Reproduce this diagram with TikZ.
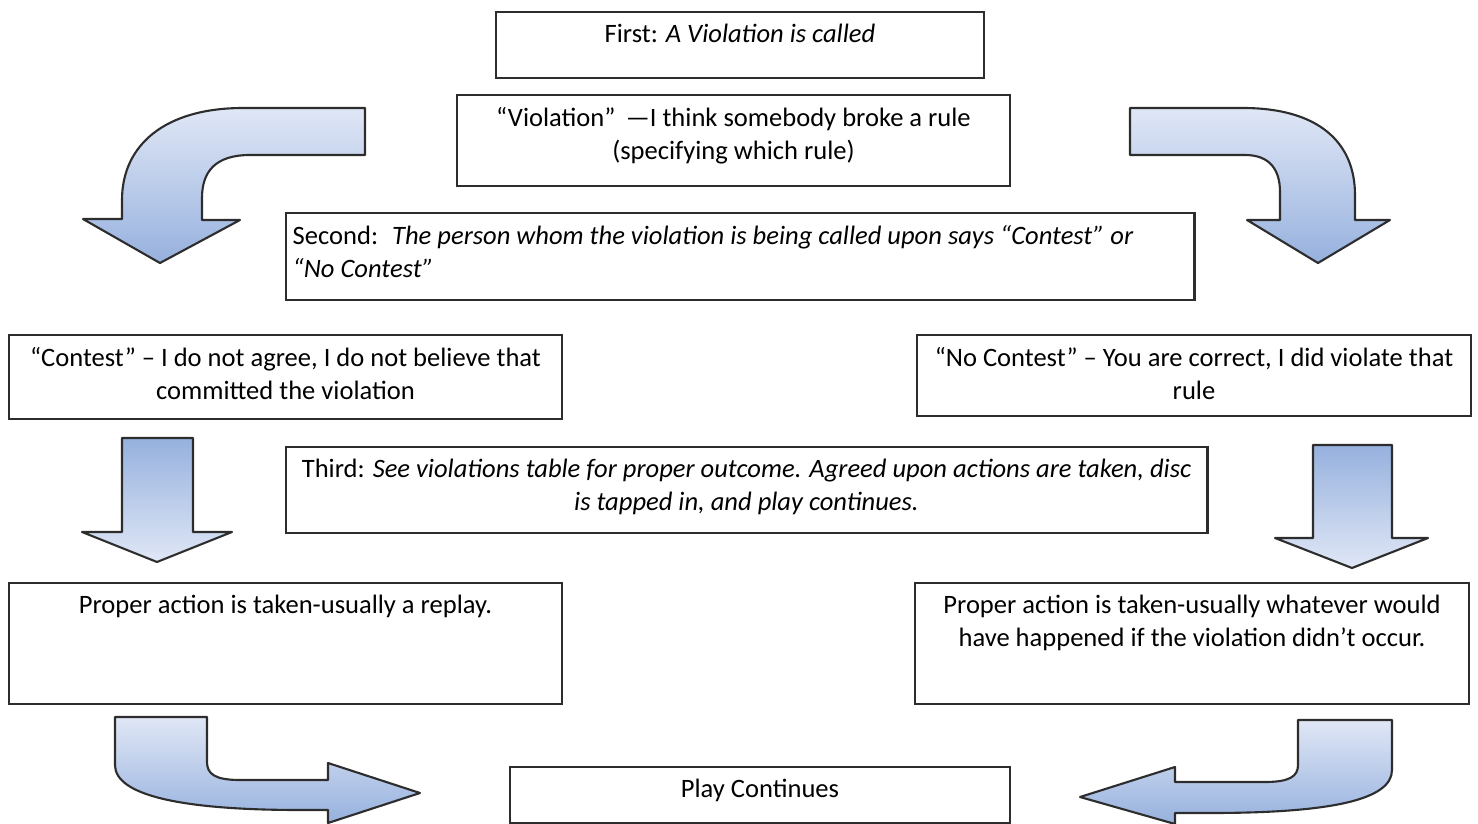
\documentclass[tikz,border=0pt]{standalone}
\usepackage{fontspec}
\setmainfont{Carlito}
\usetikzlibrary{positioning}
\definecolor{arrowdark}{RGB}{150,177,222}
\definecolor{arrowlight}{RGB}{224,231,246}
\definecolor{edgegray}{RGB}{45,45,45}
\newcommand{\boxtxt}[4][\centering]{\parbox[c][#3][t]{#2}{#1\vspace*{3.5pt}#4}}
\tikzset{
	blk/.style={draw=edgegray, line width=0.7pt, fill=white, inner sep=0pt,
		font=\fontsize{7.55}{9.4}\selectfont},
	darktop/.style={draw=edgegray, line width=0.6pt, line join=round,
		top color=arrowdark, bottom color=arrowlight},
	lighttop/.style={draw=edgegray, line width=0.6pt, line join=round,
		top color=arrowlight, bottom color=arrowdark}
}

\begin{document}
\begin{tikzpicture}[x=0.01cm, y=-0.01cm]
            \useasboundingbox (0,0) rectangle (1478,824);
            % step boxes
            \node [blk] (first) at (740,45)
                {\boxtxt{4.88cm}{0.66cm}{First: \textit{A Violation is called}}};
            \node [blk] (viol) at (733.5,140.5)
                {\boxtxt{5.53cm}{0.91cm}{“Violation” \,—I think somebody broke a rule\\(specifying which rule)}};
            \node [blk] (second) at (740,256.5)
                {\boxtxt[\raggedright\leftskip=0.07cm]{9.08cm}{0.87cm}{Second: \ \textit{The person whom the violation is being called upon says “Contest” or\\“No Contest”}}};
            \node [blk] (contest) at (285.5,377)
                {\boxtxt{5.53cm}{0.84cm}{“Contest” – I do not agree, I do not believe that\\committed the violation}};
            \node [blk] (nocontest) at (1194,375.5)
                {\boxtxt{5.54cm}{0.81cm}{“No Contest” – You are correct, I did violate that\\rule}};
            \node [blk] (third) at (746.5,490)
                {\boxtxt{9.21cm}{0.86cm}{Third: \textit{See violations table for proper outcome. Agreed upon actions are taken, disc\\is tapped in, and play continues.}}};
            \node [blk] (replay) at (285.5,643.5)
                {\boxtxt{5.53cm}{1.21cm}{Proper action is taken-usually a replay.}};
            \node [blk] (whatever) at (1192,643.5)
                {\boxtxt{5.54cm}{1.21cm}{Proper action is taken-usually whatever would\\have happened if the violation didn't occur.}};
            \node [blk] (play) at (760,795)
                {\boxtxt{5.00cm}{0.56cm}{Play Continues}};

            % curved arrows at the top
            \draw [lighttop] (365,108) -- (243,108) .. controls (165,108) and (122,145) .. (122,200)
                -- (122,219) -- (83,219) -- (160,263) -- (240,220) -- (202,220) -- (202,198)
                .. controls (202,172) and (215,155) .. (250,155) -- (365,155) -- cycle;
            \draw [lighttop] (1130,108) -- (1243,108) .. controls (1318,108) and (1355,142) .. (1355,195)
                -- (1355,220) -- (1390,220) -- (1318,263) -- (1247,220) -- (1280,220) -- (1280,192)
                .. controls (1280,170) and (1270,155) .. (1245,155) -- (1130,155) -- cycle;

            % straight arrows
            \draw [darktop] (122,438) -- (193,438) -- (193,532) -- (232,532) -- (157,562)
                -- (82,532) -- (122,532) -- cycle;
            \draw [darktop] (1313,445) -- (1392,445) -- (1392,538) -- (1428,538) -- (1352,568)
                -- (1275,538) -- (1313,538) -- cycle;

            % curved arrows at the bottom
            \draw [lighttop] (115,717) -- (207,717) -- (207,762) .. controls (207,774) and (215,780) .. (240,780)
                -- (328,780) -- (328,763) -- (420,793) -- (328,823) -- (328,810)
                -- (300,810) .. controls (180,810) and (115,795) .. (115,765) -- cycle;
            \draw [lighttop] (1392,720) -- (1298,720) -- (1298,765) .. controls (1298,776) and (1290,782) .. (1265,782)
                -- (1175,782) -- (1175,767) -- (1080,797) -- (1175,824) -- (1175,813)
                -- (1210,813) .. controls (1330,813) and (1392,800) .. (1392,770) -- cycle;
\end{tikzpicture}
\end{document}
